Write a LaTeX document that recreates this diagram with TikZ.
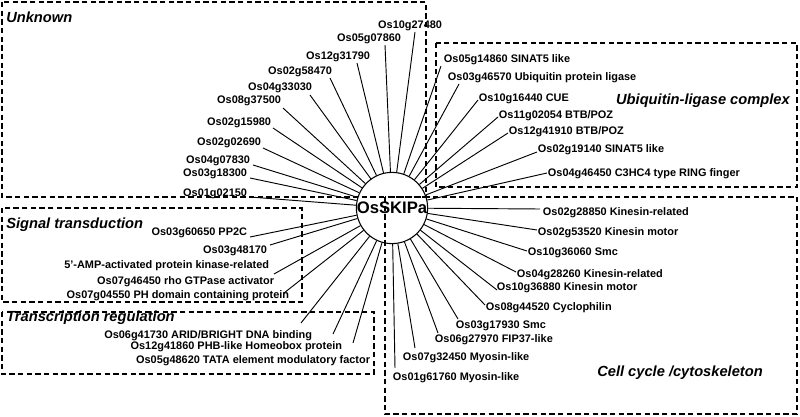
\documentclass[tikz,border=0pt]{standalone}
\usepackage{fontspec}
\setmainfont{Liberation Sans}
\begin{document}
\begin{tikzpicture}[x=0.75pt,y=-0.75pt,
  lab/.style={font=\fontsize{8.2}{9}\selectfont\bfseries,inner sep=0.5pt},
  ttl/.style={font=\fontsize{11}{12}\selectfont\bfseries\itshape,inner sep=0pt},
  box/.style={dashed,line width=0.8pt,dash pattern=on 4pt off 2.5pt},
  ray/.style={line width=0.7pt}]
\useasboundingbox (0,0) rectangle (800,417);
\node[circle,draw,line width=0.8pt,minimum size=52pt,inner sep=0pt,font=\fontsize{12.5}{14}\selectfont\bfseries] (c) at (392,208) {OsSKIPa};
% boxes
\draw[box] (2,2) rectangle (426,197);
\draw[box] (436,43) rectangle (797,187);
\draw[box] (2,208) rectangle (302,302);
\draw[box] (2,312) rectangle (374,374);
\draw[box] (385,197) rectangle (797,414);
\node[ttl,anchor=west] (t1) at (6,17) {Unknown};
\node[ttl,anchor=east] (t2) at (790,101) {Ubiquitin-ligase complex};
\node[ttl,anchor=west] (t3) at (6,225) {Signal transduction};
\node[ttl,anchor=west] (t4) at (6,318) {Transcription regulation};
\node[ttl,anchor=west] (t5) at (597,373) {Cell cycle /cytoskeleton};
% unknown
\foreach \n/\x/\y/\lx/\ly/\t in {
 u1/415/32/443/26/Os10g27480, u2/385/45/402/39/Os05g07860, u3/357/63/371/57/Os12g31790,
 u4/330/78/333/72/Os02g58470, u5/310/95/313/88/Os04g33030, u6/283/108/282/101/Os08g37500,
 u7/273/128/272/123/Os02g15980, u8/263/148/262/143/Os02g02690, u9/253/165/251/161/Os04g07830,
 u10/250/178/248/174/Os03g18300, u11/250/197/248/194/Os01g02150}{
 \coordinate (\n) at (\x,\y);
 \node[lab,anchor=east] (l\n) at (\lx,\ly) {\t};
 \draw[ray] (c) -- (\n);
}
% ubiquitin
\foreach \n/\x/\y/\lx/\ly/\t in {
 b1/441/66/443/60/{Os05g14860 SINAT5 like}, b2/459/84/447/78/{Os03g46570 Ubiquitin protein ligase},
 b3/478/100/478/99/{Os10g16440 CUE}, b4/498/117/498/116/{Os11g02054 BTB/POZ},
 b5/508/133/508/132/{Os12g41910 BTB/POZ}, b6/537/152/537/150/{Os02g19140 SINAT5 like},
 b7/547/173/547/174/{Os04g46450 C3HC4 type RING finger}}{
 \coordinate (\n) at (\x,\y);
 \node[lab,anchor=west] (l\n) at (\lx,\ly) {\t};
 \draw[ray] (c) -- (\n);
}
% cell cycle
\foreach \n/\x/\y/\lx/\ly/\t in {
 k1/540/209/542/213/Os02g28850 Kinesin-related, k2/537/230/537/233/Os02g53520 Kinesin motor,
 k3/527/251/527/253/Os10g36060 Smc, k4/516/272/516/275/Os04g28260 Kinesin-related,
 k5/497/290/496/288/Os10g36880 Kinesin motor, k6/485/305/485/308/Os08g44520 Cyclophilin,
 k7/458/319/455/326/Os03g17930 Smc, k8/438/333/434/340/Os06g27970 FIP37-like,
 k9/415/348/402/358/Os07g32450 Myosin-like, k10/395/368/392/378/Os01g61760 Myosin-like}{
 \coordinate (\n) at (\x,\y);
 \node[lab,anchor=west] (l\n) at (\lx,\ly) {\t};
 \draw[ray] (c) -- (\n);
}
% signal
\foreach \n/\x/\y/\lx/\ly/\t in {
 s1/250/237/248/233/Os03g60650 PP2C, s2/270/245/268/251/Os03g48170,
 s3/274/274/275/282/Os07g46450 rho GTPase activator, s4/284/293/290/296/Os07g04550 PH domain containing protein}{
 \coordinate (\n) at (\x,\y);
 \node[lab,anchor=east] (l\n) at (\lx,\ly) {\t};
 \draw[ray] (c) -- (\n);
}
\node[lab,anchor=east] (ls2b) at (270,266) {5'-AMP-activated protein kinase-related};
% transcription
\foreach \n/\x/\y/\lx/\ly/\t in {
 r1/301/323/313/336/{Os06g41730 ARID/BRIGHT DNA binding}, r2/333/334/343/347/{Os12g41860 PHB-like Homeobox protein},
 r3/353/343/371/361/{Os05g48620 TATA element modulatory factor}}{
 \coordinate (\n) at (\x,\y);
 \node[lab,anchor=east] (l\n) at (\lx,\ly) {\t};
 \draw[ray] (c) -- (\n);
}
\end{tikzpicture}
\end{document}
